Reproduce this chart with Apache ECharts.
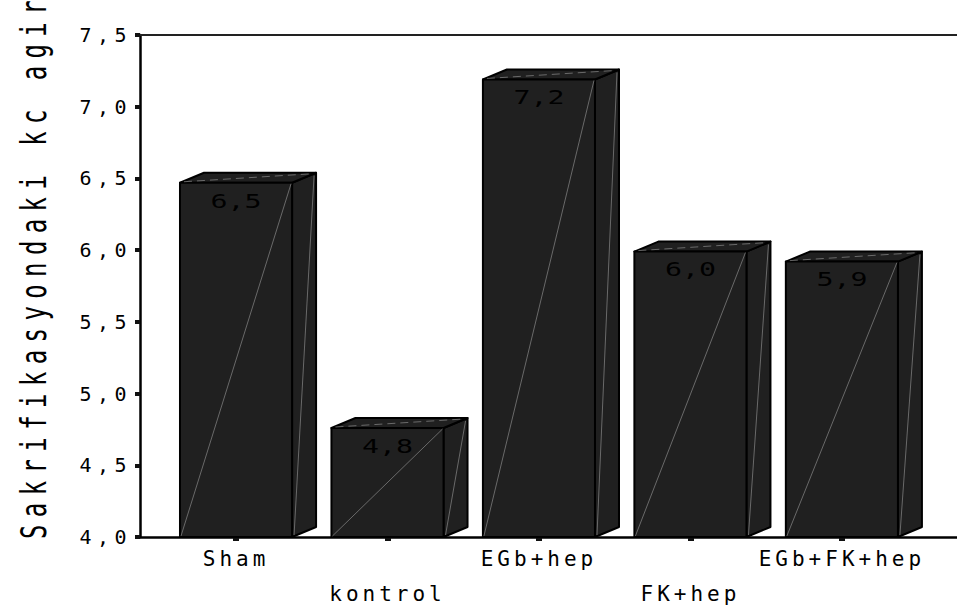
<!DOCTYPE html>
<html>
<head>
<meta charset="utf-8">
<script src="https://cdn.jsdelivr.net/npm/echarts@6/dist/echarts.min.js"></script>
<style>
  html, body { margin: 0; padding: 0; background: #fff; }
  #chart { width: 957px; height: 607px; }
  /* the reference text is widely letter-spaced */
  #chart text[style*="20px"] { letter-spacing: 5.5px; }
  #chart text[style*="21px"] { letter-spacing: 4px; }
  #chart text[style*="24px"] { letter-spacing: 7.4px; }
</style>
</head>
<body>
<div id="chart"></div>
<script>
  const categories = ['Sham', 'kontrol', 'EGb+hep', 'FK+hep', 'EGb+FK+hep']
  const values = [6.47, 4.76, 7.19, 5.99, 5.92]
  const valueLabels = ['6,5', '4,8', '7,2', '6,0', '5,9']
  const yMin = 4.0
  const yMax = 7.5
  const yStep = 0.5
  const yTitle = 'Sakrifikasyondaki kc agir'

  const mono = '"DejaVu Sans Mono"'
  const faceColor = '#202020'
  const barUnits = 0.74 // front face width in category units
  const depthX = 24
  const depthY = -10
  const stretch = 1.45 // glyphs in the picture are wide

  function renderBar(params, api) {
    let i = api.value(0)
    let v = api.value(1)
    let top = api.coord([i, v])
    let base = api.coord([i, yMin])
    let half = api.size([barUnits, 0])[0] / 2
    let l = top[0] - half
    let r = top[0] + half
    let t = top[1]
    let b = base[1]
    let edge = { stroke: '#000', lineWidth: 2, lineJoin: 'round' }
    let faint = { stroke: '#8a8a8a', lineWidth: 0.7, fill: null }
    return {
      type: 'group',
      children: [
        {
          type: 'polygon',
          shape: { points: [[r, t], [r + depthX, t + depthY], [r + depthX, b + depthY], [r, b]] },
          style: Object.assign({ fill: faceColor }, edge)
        },
        {
          type: 'polygon',
          shape: { points: [[l, t], [l + depthX, t + depthY], [r + depthX, t + depthY], [r, t]] },
          style: Object.assign({ fill: faceColor }, edge)
        },
        {
          type: 'rect',
          shape: { x: l, y: t, width: r - l, height: b - t },
          style: Object.assign({ fill: faceColor }, edge)
        },
        {
          type: 'line',
          shape: { x1: l + 1, y1: b - 1, x2: r - 1, y2: t + 1 },
          style: faint
        },
        {
          type: 'line',
          shape: { x1: r + 2, y1: b - 2, x2: r + depthX - 2, y2: t + depthY + 3 },
          style: faint
        },
        {
          type: 'line',
          shape: { x1: l + 4, y1: t - 1, x2: r + depthX - 4, y2: t + depthY + 1 },
          style: Object.assign({ lineDash: [8, 5] }, faint)
        },
        {
          type: 'text',
          x: top[0],
          y: t + 18,
          scaleX: stretch,
          style: {
            x: 0,
            y: 0,
            text: valueLabels[params.dataIndex],
            fontFamily: mono,
            fontSize: 19.5,
            fill: '#000',
            align: 'center',
            verticalAlign: 'middle'
          }
        }
      ]
    }
  }

  let chart = echarts.init(document.getElementById('chart'), null, { renderer: 'svg' })
  let ticks = categories.map((c, i) => i)
  let option = {
    animation: false,
    backgroundColor: '#fff',
    grid: {
      left: 140,
      right: 0,
      top: 35,
      bottom: 70,
      outerBoundsMode: 'none'
    },
    xAxis: [
      {
        type: 'value',
        min: -0.634,
        max: 4.76,
        splitLine: { show: false },
        axisLine: { show: true, onZero: false, lineStyle: { color: '#000', width: 2.5 } },
        axisTick: {
          show: true,
          customValues: ticks,
          length: 4,
          lineStyle: { color: '#111', width: 6 }
        },
        axisLabel: {
          customValues: ticks,
          formatter: function(v) {
            return (v % 2 ? '\n' : '') + categories[v]
          },
          fontFamily: mono,
          fontSize: 21,
          lineHeight: 35,
          margin: 4,
          color: '#000'
        }
      },
      {
        type: 'value',
        position: 'top',
        min: -0.634,
        max: 4.76,
        splitLine: { show: false },
        axisLine: { show: true, onZero: false, lineStyle: { color: '#222', width: 2 } },
        axisTick: { show: false },
        axisLabel: { show: false }
      }
    ],
    yAxis: {
      type: 'value',
      min: yMin,
      max: yMax,
      interval: yStep,
      splitLine: { show: false },
      axisLine: { show: true, onZero: false, lineStyle: { color: '#000', width: 2.5 } },
      axisTick: { show: true, length: 5, lineStyle: { color: '#111', width: 4 } },
      axisLabel: {
        formatter: function(v) {
          return v.toFixed(1).replace('.', ',')
        },
        fontFamily: mono,
        fontSize: 20,
        margin: 8,
        color: '#000'
      }
    },
    graphic: [
      {
        type: 'text',
        x: 51,
        y: 539,
        rotation: Math.PI / 2,
        scaleY: stretch,
        style: {
          text: yTitle,
          font: '24px ' + mono,
          fill: '#000',
          align: 'left',
          verticalAlign: 'bottom'
        }
      }
    ],
    series: [
      {
        type: 'custom',
        xAxisIndex: 0,
        renderItem: renderBar,
        clip: false,
        encode: { x: 0, y: 1 },
        data: values.map((v, i) => [i, v])
      }
    ]
  }
  chart.setOption(option)
</script>
</body>
</html>
